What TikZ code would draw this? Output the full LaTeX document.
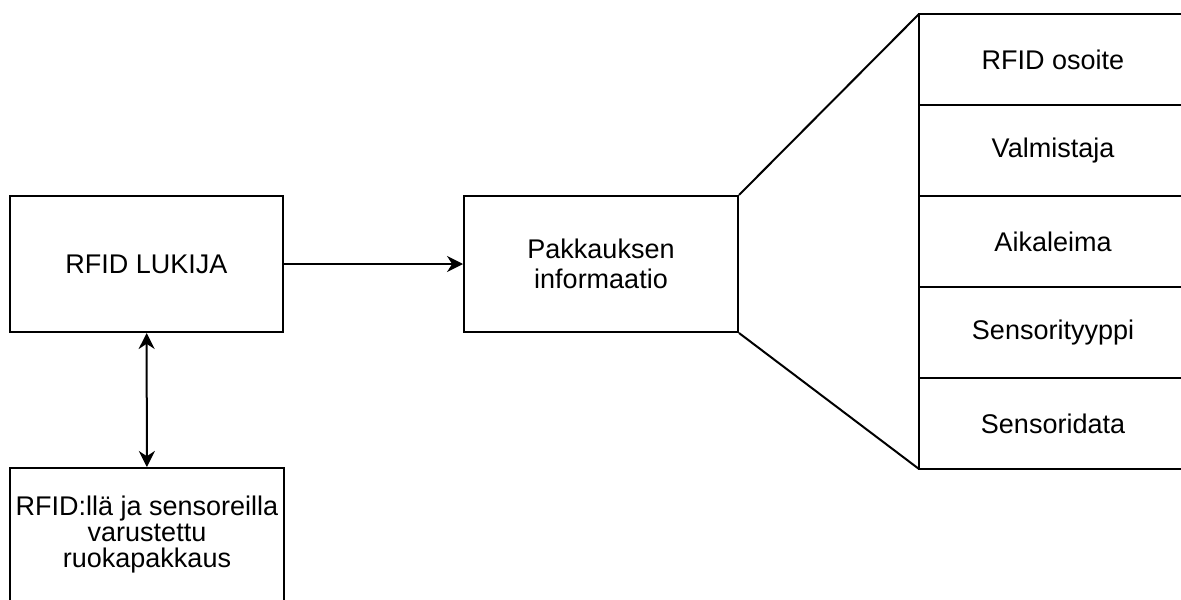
\documentclass[tikz,border=0pt]{standalone}
\usepackage{fontspec}
\setmainfont{Liberation Sans}
\usetikzlibrary{positioning,arrows.meta}
\tikzset{signal/.style={%
  line width=1pt,
  >={Stealth[length=8pt,width=8pt]},
  }
}
\tikzset{block/.style={%
  draw,
  line width=1pt,
  align=center,
  inner sep=0pt,
  anchor=center,
  font=\fontsize{13.5}{15}\selectfont,
  }
}
\tikzset{field/.style={%
  block,
  outer sep=0pt,
  minimum width=134pt,
  minimum height=45.5pt,
  }
}

\begin{document}
\begin{tikzpicture}[x=0.5pt,y=-0.5pt]
  \useasboundingbox (0,0) rectangle (1181,599);
  \clip (0,0) rectangle (1181,599);

  \node (reader) [block, minimum width=136.5pt, minimum height=68pt] at (146.5,264) {RFID LUKIJA};

  \node (info) [block, minimum width=137pt, minimum height=68pt] at (601,264) {Pakkauksen\\informaatio};

  \node (pkg) [block, minimum width=137pt, minimum height=67pt, font=\fontsize{13.5}{13}\selectfont] at (147,535) {RFID:llä ja sensoreilla\\varustettu\\ruokapakkaus};

  % tietokentat
  \node (address) [field] at (1053,59.5) {RFID osoite};
  \node (maker) [field, below=0pt of address] {Valmistaja};
  \node (stamp) [field, below=0pt of maker] {Aikaleima};
  \node (stype) [field, below=0pt of stamp] {Sensorityyppi};
  \node (sdata) [field, below=0pt of stype] {Sensoridata};

  \draw [signal, ->] (reader) -- (info);
  \draw [signal, <->] (reader) -- (pkg);

  \draw [line width=1pt] (info.north east) -- (address.north west);
  \draw [line width=1pt] (info.south east) -- (sdata.south west);
\end{tikzpicture}
\end{document}
